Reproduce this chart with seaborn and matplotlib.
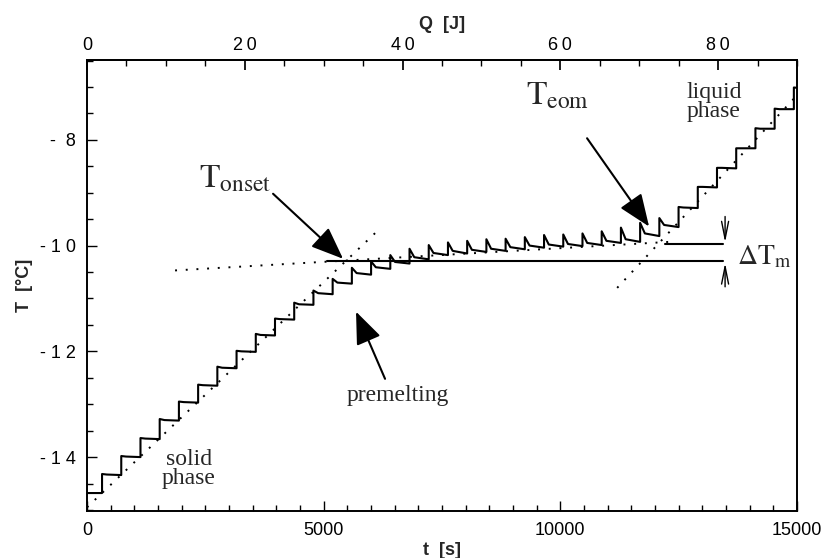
import numpy as np
import pandas as pd
import matplotlib
matplotlib.use("Agg")
import matplotlib.pyplot as plt
from matplotlib.ticker import MultipleLocator, FixedLocator, FixedFormatter
import seaborn as sns

# heat pulse times (s)
pulse_t = [317, 723, 1129, 1535, 1941, 2347, 2753, 3159, 3565, 3971,
           4377, 4783, 5189, 5595, 6001, 6407, 6813, 7219, 7625, 8031,
           8437, 8843, 9249, 9655, 10061, 10467, 10873, 11279, 11685, 12091,
           12497, 12903, 13309, 13715, 14121, 14527, 14933]
# temperature right after each pulse (deg C)
peak_T = [-14.32, -13.98, -13.64, -13.28, -12.95, -12.63, -12.29, -11.99, -11.67, -11.38,
          -11.08, -10.85, -10.63, -10.42, -10.30, -10.18, -10.06, -9.99, -9.94, -9.91,
          -9.88, -9.87, -9.84, -9.80, -9.79, -9.77, -9.73, -9.66, -9.57, -9.48,
          -9.27, -8.89, -8.53, -8.16, -7.78, -7.41, -7.01]
# about 100 s after each pulse
knee_T = [-14.33, -13.99, -13.65, -13.30, -12.96, -12.64, -12.31, -12.00, -11.69, -11.39,
          -11.11, -10.90, -10.70, -10.52, -10.41, -10.31, -10.22, -10.14, -10.10, -10.08,
          -10.06, -10.03, -10.00, -9.98, -9.97, -9.95, -9.91, -9.88, -9.77, -9.61,
          -9.28, -8.89, -8.53, -8.16, -7.79, -7.42, -7.02]
# just before the next pulse
end_T = [-14.34, -14.00, -13.66, -13.31, -12.97, -12.65, -12.32, -12.01, -11.70, -11.40,
         -11.12, -10.92, -10.72, -10.55, -10.44, -10.34, -10.26, -10.18, -10.15, -10.12,
         -10.10, -10.07, -10.04, -10.02, -10.01, -9.99, -9.95, -9.93, -9.82, -9.65,
         -9.29, -8.90, -8.54, -8.16, -7.79, -7.42, -7.02]
start_T = -14.68
t_stop = 15000
knee_lag = 100

# dotted construction lines
solid_fit_t = [0, 6150]
solid_fit_T = [-14.95, -9.71]
melt_fit_t = [1860, 12300]
melt_fit_T = [-10.47, -9.93]
liquid_fit_t = [11200, 15060]
liquid_fit_T = [-10.80, -7.10]

# onset / end-of-melting levels
onset_T = -10.30
eom_T = -9.97
onset_line_t = [5070, 13437]
eom_line_t = [12212, 13437]

heater_power = 0.006  # W, Q = P * t

thin_sp = "\u2009"
xticks = [0, 5000, 10000, 15000]
xtick_labels = ["0", "5000", "10000", "15000"]
yticks = [-14, -12, -10, -8]
ytick_labels = ["- 1 4", "- 1 2", "- 1 0", "-  8"]
qticks = [0, 20, 40, 60, 80]
qtick_labels = ["0", thin_sp.join("20"), thin_sp.join("40"),
                thin_sp.join("60"), thin_sp.join("80")]

# build the measured curve
ts, Ts = [0], [start_T]
prev = start_T
for i, t in enumerate(pulse_t):
    t_next = pulse_t[i + 1] if i + 1 < len(pulse_t) else t_stop
    ts += [t, t, t + knee_lag, t_next]
    Ts += [prev, peak_T[i], knee_T[i], end_T[i]]
    prev = end_T[i]
curve = pd.DataFrame({"t": ts, "T": Ts})

sns.set_theme(style="ticks")
plt.rcParams["font.family"] = ["Liberation Sans", "DejaVu Sans"]
plt.rcParams["mathtext.fontset"] = "stix"

fig = plt.figure(figsize=(8.25, 5.58), dpi=100)
ax = fig.add_axes([0.1055, 0.0842, 0.8606, 0.8083])

sns.lineplot(data=curve, x="t", y="T", sort=False, estimator=None,
             color="black", lw=1.5, ax=ax)

dots = (0, (1, 4.5))
for ft, fT in [(solid_fit_t, solid_fit_T), (melt_fit_t, melt_fit_T),
               (liquid_fit_t, liquid_fit_T)]:
    ax.plot(ft, fT, color="black", lw=1.4, ls=dots)

ax.plot(onset_line_t, [onset_T, onset_T], color="black", lw=1.5)
ax.plot(eom_line_t, [eom_T, eom_T], color="black", lw=1.5)

ax.set_xlim(0, 15000)
ax.set_ylim(-15.02, -6.49)

ax.xaxis.set_major_locator(FixedLocator(xticks))
ax.xaxis.set_major_formatter(FixedFormatter(xtick_labels))
ax.xaxis.set_minor_locator(MultipleLocator(500))
ax.yaxis.set_major_locator(FixedLocator(yticks))
ax.yaxis.set_major_formatter(FixedFormatter(ytick_labels))
ax.yaxis.set_minor_locator(MultipleLocator(0.5))
ax.tick_params(which="both", direction="in", top=False, right=False,
               labelsize=13, width=1.0, colors="black")
ax.tick_params(which="major", length=7, pad=8)
ax.tick_params(which="minor", length=4.5)

secax = ax.secondary_xaxis("top", functions=(lambda t: t * heater_power,
                                             lambda q: q / heater_power))
secax.xaxis.set_major_locator(FixedLocator(qticks))
secax.xaxis.set_major_formatter(FixedFormatter(qtick_labels))
secax.xaxis.set_minor_locator(MultipleLocator(5))
secax.tick_params(which="both", direction="in", labelsize=13, colors="black")
secax.tick_params(which="major", length=7, pad=4)
secax.tick_params(which="minor", length=4.5)
secax.set_xlabel("Q  [J]", fontsize=13, fontweight="bold", labelpad=6)

for sp in ax.spines.values():
    sp.set_linewidth(1.4)
    sp.set_color("black")
secax.spines["top"].set_linewidth(1.4)

ax.set_xlabel("t  [s]", fontsize=13, fontweight="bold", labelpad=2)
ax.set_ylabel("T  [°C]", fontsize=13, fontweight="bold", labelpad=5)

serif = ["Liberation Serif", "DejaVu Serif"]
ax.text(2155, -14.22, "solid\nphase", family=serif, fontsize=17,
        ha="center", va="center", linespacing=0.85)
ax.text(13247, -7.29, "liquid\nphase", family=serif, fontsize=17,
        ha="center", va="center", linespacing=0.85)
ax.text(6571, -12.84, "premelting", family=serif, fontsize=17,
        ha="center", va="center")
ax.text(3127, -8.75, r"$\mathrm{T}_{\mathrm{onset}}$", fontsize=24,
        ha="center", va="center")
ax.text(9930, -7.18, r"$\mathrm{T}_{\mathrm{eom}}$", fontsize=24,
        ha="center", va="center")
ax.text(13733, -10.22, r"$\Delta\mathrm{T}_{\mathrm{m}}$", fontsize=20,
        ha="left", va="center")

big = dict(arrowstyle="-|>,head_length=1.0,head_width=0.4", color="black",
           lw=1.5, mutation_scale=20, shrinkA=0, shrinkB=0)
ax.annotate("", xy=(5409, -10.25), xytext=(3930, -9.02), arrowprops=big)
ax.annotate("", xy=(11874, -9.64), xytext=(10564, -7.97), arrowprops=big)
ax.annotate("", xy=(5683, -11.25), xytext=(6296, -12.52), arrowprops=big)

thin = dict(arrowstyle="->,head_length=0.9,head_width=0.18", color="black",
            lw=1.0, mutation_scale=14, shrinkA=0, shrinkB=0)
ax.annotate("", xy=(13480, eom_T + 0.03), xytext=(13480, -9.45), arrowprops=thin)
ax.annotate("", xy=(13480, onset_T - 0.03), xytext=(13480, -10.78), arrowprops=thin)

fig.savefig("out.png", dpi=100)
